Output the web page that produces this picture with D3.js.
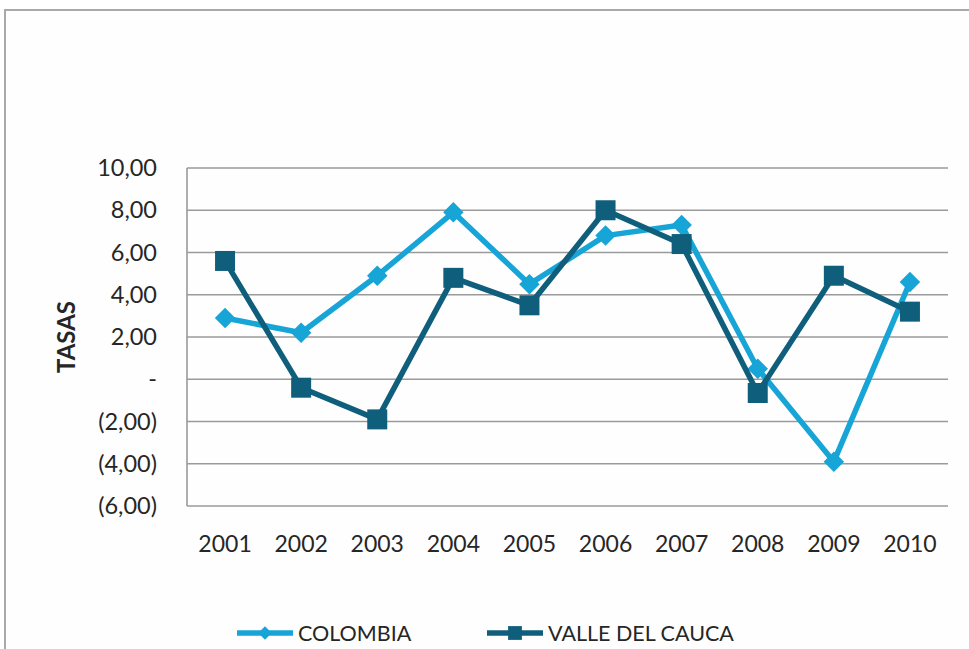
<!DOCTYPE html>
<html>
<head>
<meta charset="utf-8">
<script src="https://cdn.jsdelivr.net/npm/d3@7"></script>
<style>
  html, body { margin: 0; padding: 0; background: #ffffff; }
  svg { display: block; }
  text { font-family: Lato, "Open Sans", sans-serif; fill: #262626; }
</style>
</head>
<body>
<svg id="chart" width="969" height="649"></svg>
<script>
// Tasas anuales 2001-2010
const years = ["2001","2002","2003","2004","2005","2006","2007","2008","2009","2010"];
const colombia = [2.9, 2.2, 4.9, 7.9, 4.5, 6.8, 7.3, 0.5, -3.9, 4.6];
const valle = [5.6, -0.4, -1.9, 4.8, 3.5, 8.0, 6.4, -0.65, 4.9, 3.2];
const yTicks = [10, 8, 6, 4, 2, 0, -2, -4, -6];
const seriesNames = ["COLOMBIA", "VALLE DEL CAUCA"];

const colors = { COLOMBIA: "#17a4d6", "VALLE DEL CAUCA": "#0f5e7c" };

const svg = d3.select("#chart");
const W = 969, H = 649;
const margin = { left: 187, right: 21, top: 168, bottom: 143 };
const plotW = W - margin.left - margin.right;
const plotH = H - margin.top - margin.bottom;

// outer frame
svg.append("rect")
  .attr("x", 5).attr("y", 10)
  .attr("width", W + 10).attr("height", H + 10)
  .attr("fill", "#fefefe")
  .attr("stroke", "#a9a9a9").attr("stroke-width", 2);

const g = svg.append("g").attr("transform", `translate(${margin.left},${margin.top})`);

const x = d3.scaleBand().domain(years).range([0, plotW]);
const y = d3.scaleLinear().domain([-6, 10]).range([plotH, 0]);

// gridlines
g.append("g")
  .selectAll("line")
  .data(yTicks)
  .join("line")
  .attr("x1", 0).attr("x2", plotW)
  .attr("y1", d => y(d)).attr("y2", d => y(d))
  .attr("stroke", "#9a9a9a").attr("stroke-width", 1.6);

// left axis line
g.append("line")
  .attr("x1", 0).attr("x2", 0)
  .attr("y1", 0).attr("y2", plotH)
  .attr("stroke", "#9a9a9a").attr("stroke-width", 1.6);

const fmt = d => {
  if (d === 0) return "-";
  const s = Math.abs(d).toFixed(2).replace(".", ",");
  return d < 0 ? `(${s})` : s;
};

// y axis labels
const yAxis = d3.axisLeft(y).tickValues(yTicks).tickFormat(fmt).tickSize(0).tickPadding(30);
const ya = g.append("g").call(yAxis);
ya.select(".domain").remove();
ya.selectAll("text")
  .style("font-family", "Lato, 'Open Sans', sans-serif")
  .style("font-size", "23.5px")
  .attr("fill", "#262626");

// x axis labels
const xAxis = d3.axisBottom(x).tickSize(0).tickPadding(30);
const xa = g.append("g").attr("transform", `translate(0,${plotH})`).call(xAxis);
xa.select(".domain").remove();
xa.selectAll("text")
  .style("font-family", "Lato, 'Open Sans', sans-serif")
  .style("font-size", "23px")
  .attr("fill", "#262626");

// axis title
svg.append("text")
  .attr("transform", `translate(75,${margin.top + y(2)}) rotate(-90)`)
  .attr("text-anchor", "middle")
  .style("font-size", "24px")
  .style("font-weight", "bold")
  .text("TASAS");

const line = d3.line()
  .x((d, i) => x(years[i]) + x.bandwidth() / 2)
  .y(d => y(d));

// diamond = square turned 45 degrees
const series = [
  { name: seriesNames[0], values: colombia, symbol: d3.symbolSquare, size: 210, rot: 45 },
  { name: seriesNames[1], values: valle, symbol: d3.symbolSquare, size: 400, rot: 0 }
];

series.forEach(s => {
  g.append("path")
    .datum(s.values)
    .attr("d", line)
    .attr("fill", "none")
    .attr("stroke", colors[s.name])
    .attr("stroke-width", 5.5)
    .attr("stroke-linejoin", "round");
  g.append("g")
    .selectAll("path")
    .data(s.values)
    .join("path")
    .attr("d", d3.symbol().type(s.symbol).size(s.size))
    .attr("transform", (d, i) => `translate(${x(years[i]) + x.bandwidth() / 2},${y(d)}) rotate(${s.rot})`)
    .attr("fill", colors[s.name]);
});

// legend
const legendPos = [
  { x: 237, size: 90, rot: 45 },
  { x: 487, size: 190, rot: 0 }
];
const legY = 633;
series.forEach((s, i) => {
  const lp = legendPos[i];
  const lg = svg.append("g").attr("transform", `translate(${lp.x},${legY})`);
  lg.append("line")
    .attr("x1", 0).attr("x2", 56)
    .attr("y1", 0).attr("y2", 0)
    .attr("stroke", colors[s.name]).attr("stroke-width", 5.5);
  lg.append("path")
    .attr("d", d3.symbol().type(d3.symbolSquare).size(lp.size))
    .attr("transform", `translate(28,0) rotate(${lp.rot})`)
    .attr("fill", colors[s.name]);
  lg.append("text")
    .attr("x", 61).attr("y", 8)
    .style("font-size", "21.5px")
    .text(s.name);
});
</script>
</body>
</html>
